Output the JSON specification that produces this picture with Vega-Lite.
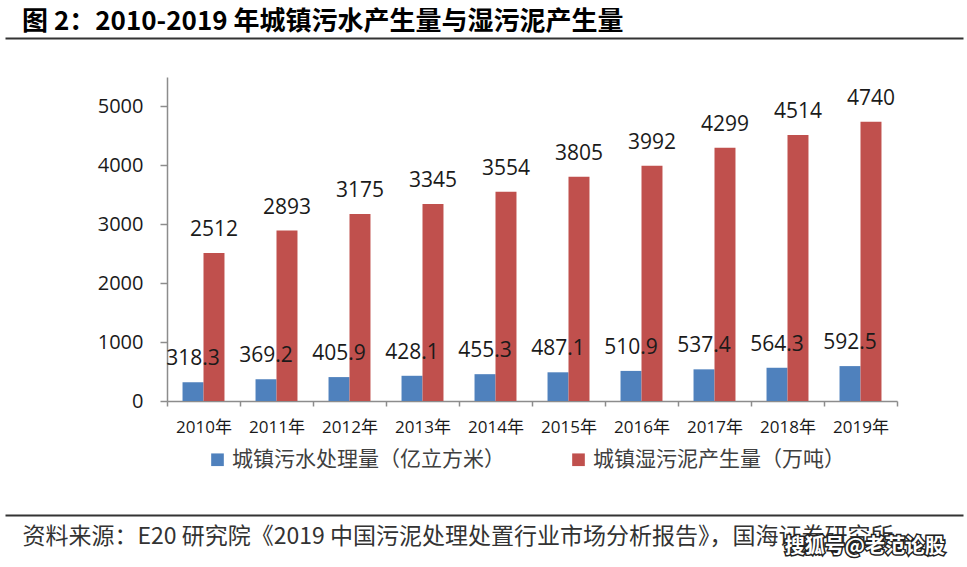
{
  "$schema": "https://vega.github.io/schema/vega-lite/v6.json",
  "autosize": {"type": "none"},
  "padding": {"left": 5, "top": 77, "right": 4, "bottom": 166},
  "width": 958,
  "height": 324,
  "background": "#ffffff",
  "config": {"view": {"stroke": null}},
  "title": {
    "text": "图 2：2010-2019 年城镇污水产生量与湿污泥产生量",
    "anchor": "start",
    "frame": "group",
    "dx": 17,
    "offset": 3,
    "font": "Noto Sans CJK SC",
    "fontSize": 26,
    "fontWeight": "bold",
    "color": "#000000"
  },
  "data": {
    "values": [
      {"year": "2010年", "series": "城镇污水处理量（亿立方米）", "value": 318.3},
      {"year": "2010年", "series": "城镇湿污泥产生量（万吨）", "value": 2512},
      {"year": "2011年", "series": "城镇污水处理量（亿立方米）", "value": 369.2},
      {"year": "2011年", "series": "城镇湿污泥产生量（万吨）", "value": 2893},
      {"year": "2012年", "series": "城镇污水处理量（亿立方米）", "value": 405.9},
      {"year": "2012年", "series": "城镇湿污泥产生量（万吨）", "value": 3175},
      {"year": "2013年", "series": "城镇污水处理量（亿立方米）", "value": 428.1},
      {"year": "2013年", "series": "城镇湿污泥产生量（万吨）", "value": 3345},
      {"year": "2014年", "series": "城镇污水处理量（亿立方米）", "value": 455.3},
      {"year": "2014年", "series": "城镇湿污泥产生量（万吨）", "value": 3554},
      {"year": "2015年", "series": "城镇污水处理量（亿立方米）", "value": 487.1},
      {"year": "2015年", "series": "城镇湿污泥产生量（万吨）", "value": 3805},
      {"year": "2016年", "series": "城镇污水处理量（亿立方米）", "value": 510.9},
      {"year": "2016年", "series": "城镇湿污泥产生量（万吨）", "value": 3992},
      {"year": "2017年", "series": "城镇污水处理量（亿立方米）", "value": 537.4},
      {"year": "2017年", "series": "城镇湿污泥产生量（万吨）", "value": 4299},
      {"year": "2018年", "series": "城镇污水处理量（亿立方米）", "value": 564.3},
      {"year": "2018年", "series": "城镇湿污泥产生量（万吨）", "value": 4514},
      {"year": "2019年", "series": "城镇污水处理量（亿立方米）", "value": 592.5},
      {"year": "2019年", "series": "城镇湿污泥产生量（万吨）", "value": 4740}
    ]
  },
  "resolve": {"scale": {"x": "independent"}, "axis": {"x": "independent"}},
  "layer": [
    {
      "encoding": {
        "x": {
          "field": "year",
          "type": "nominal",
          "sort": null,
          "scale": {"range": [162, 892], "paddingInner": 0, "paddingOuter": 0},
          "axis": {
            "title": null,
            "labelAngle": 0,
            "tickBand": "extent",
            "domainColor": "#8c8c8c",
            "domainWidth": 1.5,
            "tickColor": "#8c8c8c",
            "tickWidth": 1.5,
            "tickSize": 5,
            "labelPadding": 13,
            "labelFont": "Open Sans, Noto Sans CJK SC",
            "labelFontSize": 17,
            "labelColor": "#1a1a1a",
            "grid": false
          }
        },
        "xOffset": {
          "field": "series",
          "type": "nominal",
          "sort": ["城镇污水处理量（亿立方米）", "城镇湿污泥产生量（万吨）"],
          "scale": {"paddingInner": 0, "paddingOuter": 0.74}
        },
        "y": {
          "field": "value",
          "type": "quantitative",
          "scale": {"domain": [0, 5500], "nice": false},
          "axis": {
            "title": null,
            "offset": -162,
            "values": [0, 1000, 2000, 3000, 4000, 5000],
            "format": "d",
            "grid": false,
            "domainColor": "#8c8c8c",
            "domainWidth": 1.5,
            "tickColor": "#8c8c8c",
            "tickWidth": 1.5,
            "tickSize": 7,
            "labelPadding": 17,
            "labelFont": "Open Sans",
            "labelFontSize": 20,
            "labelColor": "#1a1a1a"
          }
        }
      },
      "layer": [
        {
          "mark": {"type": "bar"},
          "encoding": {
            "color": {
              "field": "series",
              "type": "nominal",
              "scale": {
                "domain": ["城镇污水处理量（亿立方米）", "城镇湿污泥产生量（万吨）"],
                "range": ["#4F81BD", "#C0504D"]
              },
              "legend": {
                "orient": "none",
                "legendX": 202,
                "legendY": 372,
                "direction": "horizontal",
                "title": null,
                "padding": 0,
                "symbolType": "square",
                "symbolSize": 160,
                "symbolStrokeWidth": 0,
                "labelFont": "Noto Sans CJK SC",
                "labelFontSize": 21,
                "labelColor": "#404040",
                "labelOffset": 4,
                "columnPadding": 63,
                "labelLimit": 400
              }
            }
          }
        },
        {
          "mark": {
            "type": "text",
            "baseline": "alphabetic",
            "align": "center",
            "dy": -17,
            "font": "Open Sans",
            "fontSize": 21,
            "color": "#1a1a1a"
          },
          "encoding": {
            "text": {"field": "value", "type": "quantitative", "format": "~f"}
          }
        }
      ]
    },
    {
      "data": {"values": [{"pos": 0}]},
      "mark": {"type": "point", "opacity": 0},
      "encoding": {
        "x": {
          "field": "pos",
          "type": "quantitative",
          "scale": {"domain": [0, 1]},
          "axis": {
            "orient": "top",
            "offset": 39,
            "domain": true,
            "domainColor": "#333333",
            "domainWidth": 2,
            "ticks": false,
            "labels": false,
            "grid": false,
            "title": null
          }
        }
      }
    },
    {
      "data": {"values": [{"pos": 1, "wm": "搜狐号@老范论股", "h": -2480}]},
      "layer": [
        {
          "mark": {
            "type": "text",
            "align": "right",
            "baseline": "middle",
            "dx": -18,
            "font": "Noto Sans CJK SC",
            "fontSize": 20,
            "fontWeight": "bold",
            "fill": "#222222",
            "stroke": "#222222",
            "strokeWidth": 3
          },
          "encoding": {
            "x": {
              "field": "pos",
              "type": "quantitative",
              "scale": {"domain": [0, 1]},
              "axis": {
                "orient": "bottom",
                "offset": 114,
                "domain": true,
                "domainColor": "#333333",
                "domainWidth": 2,
                "ticks": false,
                "labels": false,
                "grid": false,
                "title": "资料来源：E20 研究院《2019 中国污泥处理处置行业市场分析报告》，国海证券研究所",
                "titleX": 17,
                "titleAlign": "left",
                "titleBaseline": "top",
                "titlePadding": 10,
                "titleFont": "Noto Sans CJK SC",
                "titleFontSize": 23,
                "titleFontWeight": "normal",
                "titleColor": "#333333"
              }
            },
            "y": {"field": "h", "type": "quantitative"},
            "text": {"field": "wm"}
          }
        },
        {
          "mark": {
            "type": "text",
            "align": "right",
            "baseline": "middle",
            "dx": -18,
            "font": "Noto Sans CJK SC",
            "fontSize": 20,
            "fontWeight": "bold",
            "fill": "#ffffff"
          },
          "encoding": {
            "x": {"field": "pos", "type": "quantitative"},
            "y": {"field": "h", "type": "quantitative"},
            "text": {"field": "wm"}
          }
        }
      ]
    }
  ]
}
